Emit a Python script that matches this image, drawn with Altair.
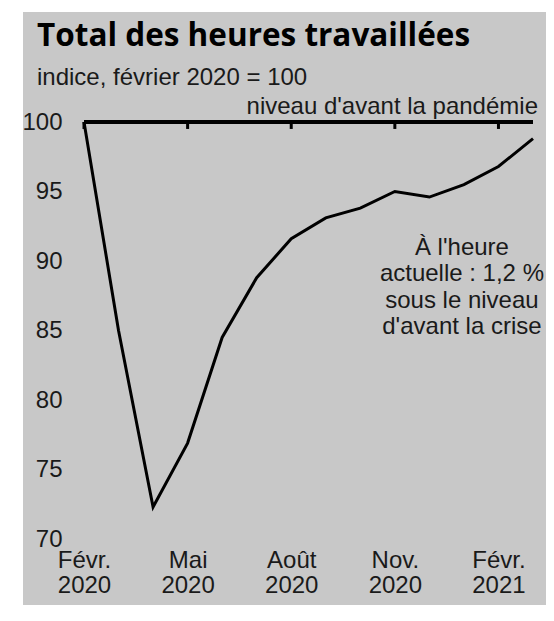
import altair as alt
import pandas as pd

# ---- data ----
months = ["Févr. 2020", "Mars 2020", "Avr. 2020", "Mai 2020", "Juin 2020", "Juil. 2020",
          "Août 2020", "Sept. 2020", "Oct. 2020", "Nov. 2020", "Déc. 2020", "Janv. 2021",
          "Févr. 2021", "Mars 2021"]
hours_index = [100.0, 85.0, 72.3, 76.9, 84.5, 88.8, 91.6, 93.1, 93.8, 95.0, 94.6, 95.5, 96.8, 98.8]
tick_months = ["Févr. 2020", "Mai 2020", "Août 2020", "Nov. 2020", "Févr. 2021"]
y_ticks = [70, 75, 80, 85, 90, 95, 100]
baseline_level = 100

title_text = "Total des heures travaillées"
subtitle_text = "indice, février 2020 = 100"
ref_label = "niveau d'avant la pandémie"
note_lines = ["À l'heure", "actuelle : 1,2 %", "sous le niveau", "d'avant la crise"]
note_month = "Janv. 2021"
note_level = 91.8

# ---- layout ----
W, H = 449, 417
PAD = {"left": 76, "top": 114, "right": 13, "bottom": 66}
FONT = "Liberation Sans"
FS = 24
TXT = "#1a1a1a"
BG = "#c8c8c8"

df = pd.DataFrame({"mois": months, "indice": hours_index})
ticks_df = pd.DataFrame({"mois": tick_months, "indice": [baseline_level] * len(tick_months)})
ref_df = pd.DataFrame({"mois": [months[-1]], "indice": [baseline_level], "label": [ref_label]})
note_df = pd.DataFrame({"mois": [note_month], "indice": [note_level], "label": ["\n".join(note_lines)]})
one = pd.DataFrame({"k": [0]})

x_scale = alt.Scale(type="point", padding=0, domain=months)
y_scale = alt.Scale(domain=[70, 100], nice=False, zero=False)

x_enc = alt.X(
    "mois:O", sort=months, scale=x_scale, title=None,
    axis=alt.Axis(values=tick_months, labelExpr="split(datum.label, ' ')", labelAngle=0,
                  ticks=False, domain=False, grid=False, labelPadding=9, labelLineHeight=25,
                  labelFontSize=FS, labelFont=FONT, labelColor=TXT, labelOverlap=False,
                  labelAlign="center", labelBaseline="top", zindex=2),
)
y_enc = alt.Y(
    "indice:Q", scale=y_scale, title=None,
    axis=alt.Axis(values=y_ticks, ticks=False, domain=False, grid=False, labelPadding=22,
                  labelFontSize=FS, labelFont=FONT, labelColor=TXT, zindex=2),
)

bg = alt.Chart(one).mark_rect(color=BG).encode(
    x=alt.value(-61), x2=alt.value(W + 40), y=alt.value(-110), y2=alt.value(H + 100)
)

ref_rule = alt.Chart(one).mark_rule(color="black", strokeWidth=4).encode(y=alt.datum(baseline_level))

ref_ticks = alt.Chart(ticks_df).mark_rule(color="black", strokeWidth=3).encode(
    x=x_enc, y=y_enc, y2=alt.datum(baseline_level - 0.5)
)

line = alt.Chart(df).mark_line(color="black", strokeWidth=3, strokeJoin="miter").encode(x=x_enc, y=y_enc)

ref_text = alt.Chart(ref_df).mark_text(
    align="right", baseline="alphabetic", dx=5, dy=-8, fontSize=FS, font=FONT, color=TXT
).encode(x=x_enc, y=y_enc, text="label:N")

note_text = alt.Chart(note_df).mark_text(
    align="center", baseline="top", dx=-2, fontSize=FS, font=FONT, color=TXT,
    lineBreak="\n", lineHeight=26.5
).encode(x=x_enc, y=y_enc, text="label:N")

title = alt.Chart(one).mark_text(
    align="left", baseline="alphabetic", fontSize=31.5, fontWeight="bold", font="Open Sans", color="black"
).encode(x=alt.value(-47), y=alt.value(-76), text=alt.value(title_text))

subtitle = alt.Chart(one).mark_text(
    align="left", baseline="alphabetic", fontSize=FS, font=FONT, color=TXT
).encode(x=alt.value(-47), y=alt.value(-37), text=alt.value(subtitle_text))

chart = alt.layer(bg, ref_rule, ref_ticks, line, ref_text, note_text, title, subtitle).properties(
    width=W, height=H, padding=PAD, autosize=alt.AutoSizeParams(type="none"), background="white"
).configure_view(stroke=None)

chart.save("out.html", embed_options={"renderer": "svg", "actions": False})
